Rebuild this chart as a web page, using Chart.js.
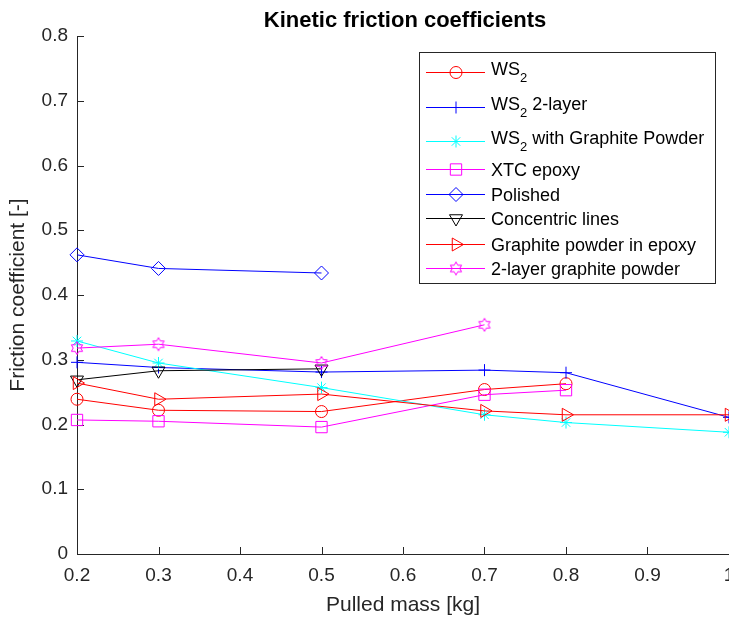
<!DOCTYPE html>
<html>
<head>
<meta charset="utf-8">
<script src="https://cdn.jsdelivr.net/npm/chart.js@4/dist/chart.umd.min.js"></script>
<style>
html,body{margin:0;padding:0;overflow:hidden;background:#fff;width:729px;height:618px}
#wrap{position:relative;width:760px;height:618px}
canvas{display:block}
</style>
</head>
<body>
<div id="wrap"><canvas id="c" width="760" height="618"></canvas></div>
<script>
// ---- text ----
const chartTitle = 'Kinetic friction coefficients';
const xAxisLabel = 'Pulled mass [kg]';
const yAxisLabel = 'Friction coefficient [-]';

// ---- ticks ----
const xTickValues = [0.2, 0.3, 0.4, 0.5, 0.6, 0.7, 0.8, 0.9, 1.0];
const yTickValues = [0, 0.1, 0.2, 0.3, 0.4, 0.5, 0.6, 0.7, 0.8];

// ---- x values (pulled mass, kg) ----
const massFive  = [0.2, 0.3, 0.5, 0.7, 0.8];
const massSix   = [0.2, 0.3, 0.5, 0.7, 0.8, 1.0];
const massThree = [0.2, 0.3, 0.5];
const massFour  = [0.2, 0.3, 0.5, 0.7];

// ---- series values (friction coefficient) ----
const ws2              = [0.239, 0.222, 0.220, 0.254, 0.263];
const ws2TwoLayer      = [0.296, 0.288, 0.281, 0.284, 0.280, 0.211];
const ws2Graphite      = [0.329, 0.295, 0.257, 0.215, 0.203, 0.188];
const xtcEpoxy         = [0.207, 0.205, 0.196, 0.246, 0.253];
const polished         = [0.462, 0.441, 0.434];
const concentricLines  = [0.269, 0.283, 0.286];
const graphiteEpoxy    = [0.264, 0.239, 0.247, 0.221, 0.215, 0.215];
const twoLayerGraphite = [0.318, 0.324, 0.295, 0.354];

const seriesNames = ['WS_{2}', 'WS_{2} 2-layer', 'WS_{2} with Graphite Powder', 'XTC epoxy',
  'Polished', 'Concentric lines', 'Graphite powder in epoxy', '2-layer graphite powder'];
const seriesX = [massFive, massSix, massSix, massFive, massThree, massThree, massSix, massFour];
const seriesY = [ws2, ws2TwoLayer, ws2Graphite, xtcEpoxy, polished, concentricLines, graphiteEpoxy, twoLayerGraphite];

// ---- styles ----
function hexagram(color, r) {
  const s = 16;
  const c = document.createElement('canvas');
  c.width = s; c.height = s;
  const g = c.getContext('2d');
  g.strokeStyle = color; g.lineWidth = 1;
  const cx = s / 2, cy = s / 2, ri = r / Math.sqrt(3);
  g.beginPath();
  for (let k = 0; k < 12; k++) {
    const a = -Math.PI / 2 + k * Math.PI / 6;
    const rr = (k % 2) ? ri : r;
    const px = cx + Math.cos(a) * rr, py = cy + Math.sin(a) * rr;
    if (k === 0) g.moveTo(px, py); else g.lineTo(px, py);
  }
  g.closePath(); g.stroke();
  return c;
}
const styles = [
  {color: '#ff0000', pointStyle: 'circle',   radius: 6, rotation: 0},
  {color: '#0000ff', pointStyle: 'cross',    radius: 6, rotation: 0},
  {color: '#00ffff', pointStyle: 'star',     radius: 6, rotation: 0},
  {color: '#ff00ff', pointStyle: 'rect',     radius: 8, rotation: 0},
  {color: '#0000ff', pointStyle: 'rectRot',  radius: 7, rotation: 0},
  {color: '#000000', pointStyle: 'triangle', radius: 7.5, rotation: 180},
  {color: '#ff0000', pointStyle: 'triangle', radius: 7.5, rotation: 90},
  {color: '#ff00ff', pointStyle: hexagram('#ff00ff', 6.5), radius: 7, rotation: 0}
];

const axisColor = '#262626';
const FONT = "'Liberation Sans', Arial, Helvetica, sans-serif";
Chart.defaults.font.family = FONT;
Chart.defaults.color = axisColor;

const datasets = seriesNames.map((name, i) => ({
  label: name,
  data: seriesX[i].map((x, j) => ({x: x, y: seriesY[i][j]})),
  borderColor: styles[i].color,
  backgroundColor: 'rgba(0,0,0,0)',
  borderWidth: 1,
  pointStyle: styles[i].pointStyle,
  pointRadius: styles[i].radius,
  pointRotation: styles[i].rotation,
  pointBorderColor: styles[i].color,
  pointBackgroundColor: 'rgba(0,0,0,0)',
  pointBorderWidth: 1,
  tension: 0,
  fill: false,
  clip: false,
  order: seriesNames.length - i
}));

function drawRichText(ctx, text, x, y, size) {
  const parts = [];
  const re = /_\{([^}]*)\}/g;
  let last = 0, m;
  while ((m = re.exec(text)) !== null) {
    if (m.index > last) parts.push({t: text.slice(last, m.index), sub: false});
    parts.push({t: m[1], sub: true});
    last = re.lastIndex;
  }
  if (last < text.length) parts.push({t: text.slice(last), sub: false});
  let cx = x;
  for (const p of parts) {
    ctx.font = (p.sub ? Math.round(size * 0.72) : size) + 'px ' + FONT;
    ctx.fillText(p.t, cx, p.sub ? y + 7 : y);
    cx += ctx.measureText(p.t).width;
  }
}

const tickText = v => String(+Number(v).toFixed(2));

const decorPlugin = {
  id: 'decor',
  beforeDatasetsDraw(chart) {
    const ctx = chart.ctx;
    const xs = chart.scales.x, ys = chart.scales.y;
    const area = chart.chartArea;
    ctx.save();
    ctx.strokeStyle = axisColor;
    ctx.lineWidth = 1;
    ctx.beginPath();
    for (const v of xTickValues) {
      const px = Math.round(xs.getPixelForValue(v)) + 0.5;
      ctx.moveTo(px, area.bottom);
      ctx.lineTo(px, area.bottom - 7);
    }
    for (const v of yTickValues) {
      const py = Math.round(ys.getPixelForValue(v)) + 0.5;
      ctx.moveTo(area.left, py);
      ctx.lineTo(area.left + 7, py);
    }
    ctx.stroke();
    ctx.restore();
  },
  afterDraw(chart) {
    const ctx = chart.ctx;
    ctx.save();
    ctx.fillStyle = '#000';
    ctx.font = 'bold 22px ' + FONT;
    ctx.textAlign = 'center';
    ctx.textBaseline = 'alphabetic';
    ctx.fillText(chartTitle, 405, 27);

    const box = {x: 419.5, y: 52.5, w: 296, h: 231};
    ctx.fillStyle = '#fff';
    ctx.fillRect(box.x, box.y, box.w, box.h);
    ctx.strokeStyle = axisColor;
    ctx.lineWidth = 1;
    ctx.strokeRect(box.x, box.y, box.w, box.h);
    const rowY = [72.3, 106.7, 141, 169.3, 194.3, 218.3, 244.3, 267.7];
    ctx.textAlign = 'left';
    chart.data.datasets.forEach((ds, i) => {
      const y = Math.round(rowY[i]) + 0.5;
      ctx.strokeStyle = ds.borderColor;
      ctx.lineWidth = 1;
      ctx.beginPath();
      ctx.moveTo(426, y);
      ctx.lineTo(485, y);
      ctx.stroke();
      ctx.fillStyle = 'rgba(0,0,0,0)';
      ctx.strokeStyle = ds.pointBorderColor;
      Chart.helpers.drawPoint(ctx, {
        pointStyle: ds.pointStyle, rotation: ds.pointRotation,
        radius: ds.pointRadius, borderWidth: 1
      }, 456, y);
      ctx.fillStyle = '#000';
      const hasSub = ds.label.indexOf('_{') >= 0;
      drawRichText(ctx, ds.label, 491, rowY[i] + (hasSub ? 3 : 6.8), 18);
    });
    ctx.restore();
  }
};

new Chart(document.getElementById('c'), {
  type: 'line',
  data: {datasets: datasets},
  plugins: [decorPlugin],
  options: {
    responsive: false,
    animation: false,
    devicePixelRatio: 1,
    events: [],
    layout: {padding: {left: 0, top: 36, right: 31, bottom: 0}},
    plugins: {legend: {display: false}, title: {display: false}, tooltip: {enabled: false}},
    scales: {
      x: {
        type: 'linear',
        min: 0.2, max: 1.0,
        afterBuildTicks(scale) { scale.ticks = xTickValues.map(v => ({value: v})); },
        afterFit(scale) { scale.height = 64; },
        grid: {display: false, drawTicks: false},
        border: {display: true, color: axisColor, width: 1},
        ticks: {padding: 10, font: {size: 19}, color: axisColor, maxRotation: 0, autoSkip: false, callback: tickText},
        title: {display: true, text: xAxisLabel, font: {size: 21}, color: axisColor, padding: {top: 0, bottom: 0}}
      },
      y: {
        type: 'linear',
        min: 0, max: 0.8,
        afterBuildTicks(scale) { scale.ticks = yTickValues.map(v => ({value: v})); },
        afterFit(scale) { scale.width = 77; },
        grid: {display: false, drawTicks: false},
        border: {display: true, color: axisColor, width: 1},
        ticks: {padding: 9, font: {size: 19}, color: axisColor, autoSkip: false, callback: tickText},
        title: {display: true, text: yAxisLabel, font: {size: 21}, color: axisColor, padding: {top: 6, bottom: 0}}
      }
    }
  }
});
</script>
</body>
</html>
